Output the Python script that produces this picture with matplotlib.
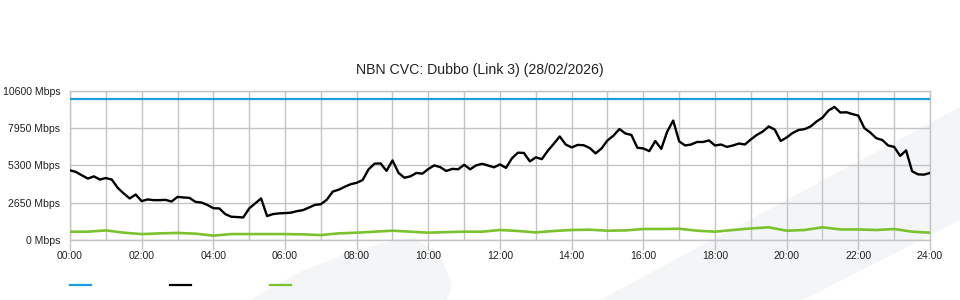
import numpy as np
import matplotlib
matplotlib.use('Agg')
import matplotlib.pyplot as plt
from matplotlib.lines import Line2D
from matplotlib.patches import Polygon

plt.rcParams['font.family'] = ['Liberation Sans', 'DejaVu Sans']

title = 'NBN CVC: Dubbo (Link 3) (28/02/2026)'

# capacity of the link (Mbps)
capacity = 10000

# traffic, one reading every 10 minutes from 00:00 to 24:00 (Mbps)
traffic = [4950, 4830, 4590, 4360, 4520, 4290, 4400, 4290, 3700, 3300,
           2950, 3230, 2760, 2880, 2830, 2830, 2850, 2730, 3060, 3020,
           2990, 2710, 2660, 2490, 2260, 2240, 1840, 1650, 1630, 1600,
           2240, 2590, 2950, 1700, 1840, 1890, 1910, 1940, 2050, 2120,
           2300, 2490, 2540, 2860, 3440, 3570, 3780, 3960, 4060, 4260,
           5020, 5420, 5440, 4910, 5650, 4770, 4420, 4520, 4760, 4710,
           5040, 5300, 5170, 4900, 5050, 5020, 5340, 5020, 5300, 5410,
           5290, 5160, 5370, 5120, 5800, 6200, 6180, 5580, 5870, 5740,
           6330, 6830, 7350, 6780, 6570, 6750, 6730, 6540, 6150, 6500,
           7070, 7410, 7880, 7560, 7460, 6550, 6500, 6310, 7030, 6470,
           7700, 8480, 7000, 6710, 6780, 6960, 6960, 7070, 6710, 6780,
           6610, 6710, 6850, 6780, 7140, 7460, 7700, 8060, 7840, 7030,
           7280, 7600, 7810, 7870, 8060, 8410, 8690, 9190, 9450, 9050,
           9070, 8940, 8830, 7950, 7630, 7230, 7100, 6710, 6610, 5970,
           6360, 4880, 4660, 4640, 4760]

# second series, one reading every 30 minutes (Mbps)
other = [590, 590, 680, 520, 420, 470, 500, 450, 310, 420,
         420, 420, 420, 400, 350, 470, 520, 590, 660, 590,
         520, 560, 590, 590, 710, 640, 540, 640, 710, 730,
         660, 680, 780, 780, 800, 660, 590, 710, 820, 900,
         660, 710, 900, 750, 750, 710, 780, 590, 520]

y_ticks = [0, 2650, 5300, 7950, 10600]
x_labels = ['%02d:00' % h for h in range(0, 25, 2)]

t_traffic = np.linspace(0, 24, len(traffic))
t_other = np.linspace(0, 24, len(other))

fig = plt.figure(figsize=(9.6, 3.0), dpi=100)

# faint watermark shapes behind the chart (figure pixels, origin top-left)
wm = '#f4f5f7'
for pts in ([(600, 300), (960, 107), (960, 220), (803, 300)],
            [(250, 300), (300, 272), (350, 252), (395, 240), (415, 238),
             (440, 255), (452, 285), (447, 300)]):
    xy = [(px / 960, 1 - py / 300) for px, py in pts]
    fig.patches.append(Polygon(xy, closed=True, transform=fig.transFigure,
                               facecolor=wm, edgecolor='none', zorder=-10))

ax = fig.add_axes([70 / 960, 0.2, 860 / 960, (240 - 90.7) / 300])
ax.patch.set_alpha(0)
ax.set_zorder(1)

grid_c = '#c4c4c4'
ax.plot([0, 24], [capacity, capacity], color='#1aa0e1', lw=1.6, zorder=3)
ax.plot(t_traffic, traffic, color='black', lw=1.7, zorder=4)
ax.plot(t_other, other, color='#7bc22f', lw=1.9, zorder=3)

ax.set_xlim(0, 24)
ax.set_ylim(0, 10600)
ax.set_xticks(range(0, 25, 2))
ax.set_xticklabels(x_labels)
ax.set_xticks(range(0, 25), minor=True)
ax.set_yticks(y_ticks)
ax.set_yticklabels(['%d Mbps' % v for v in y_ticks])

ax.grid(True, which='both', axis='x', color=grid_c, lw=1)
ax.grid(True, which='major', axis='y', color=grid_c, lw=1)
ax.set_axisbelow(True)
for s in ax.spines.values():
    s.set_color(grid_c)
    s.set_linewidth(1)

ax.tick_params(axis='x', which='major', length=7.2, width=1, color=grid_c,
               pad=1, labelsize=7.6, labelcolor='#222222')
ax.tick_params(axis='x', which='minor', length=0)
ax.tick_params(axis='y', length=0, pad=7, labelsize=7.6, labelcolor='#222222')

fig.text(0.5, 1 - 70 / 300, title, ha='center', va='center',
         fontsize=10.2, color='#222222')

# legend swatches, no labels
for x0, c in ((70, '#1aa0e1'), (170, 'black'), (270, '#7bc22f')):
    fig.lines.append(Line2D([x0 / 960, (x0 + 21) / 960], [0.05, 0.05],
                            transform=fig.transFigure, color=c, lw=1.6))

fig.savefig('out.png', dpi=100)
